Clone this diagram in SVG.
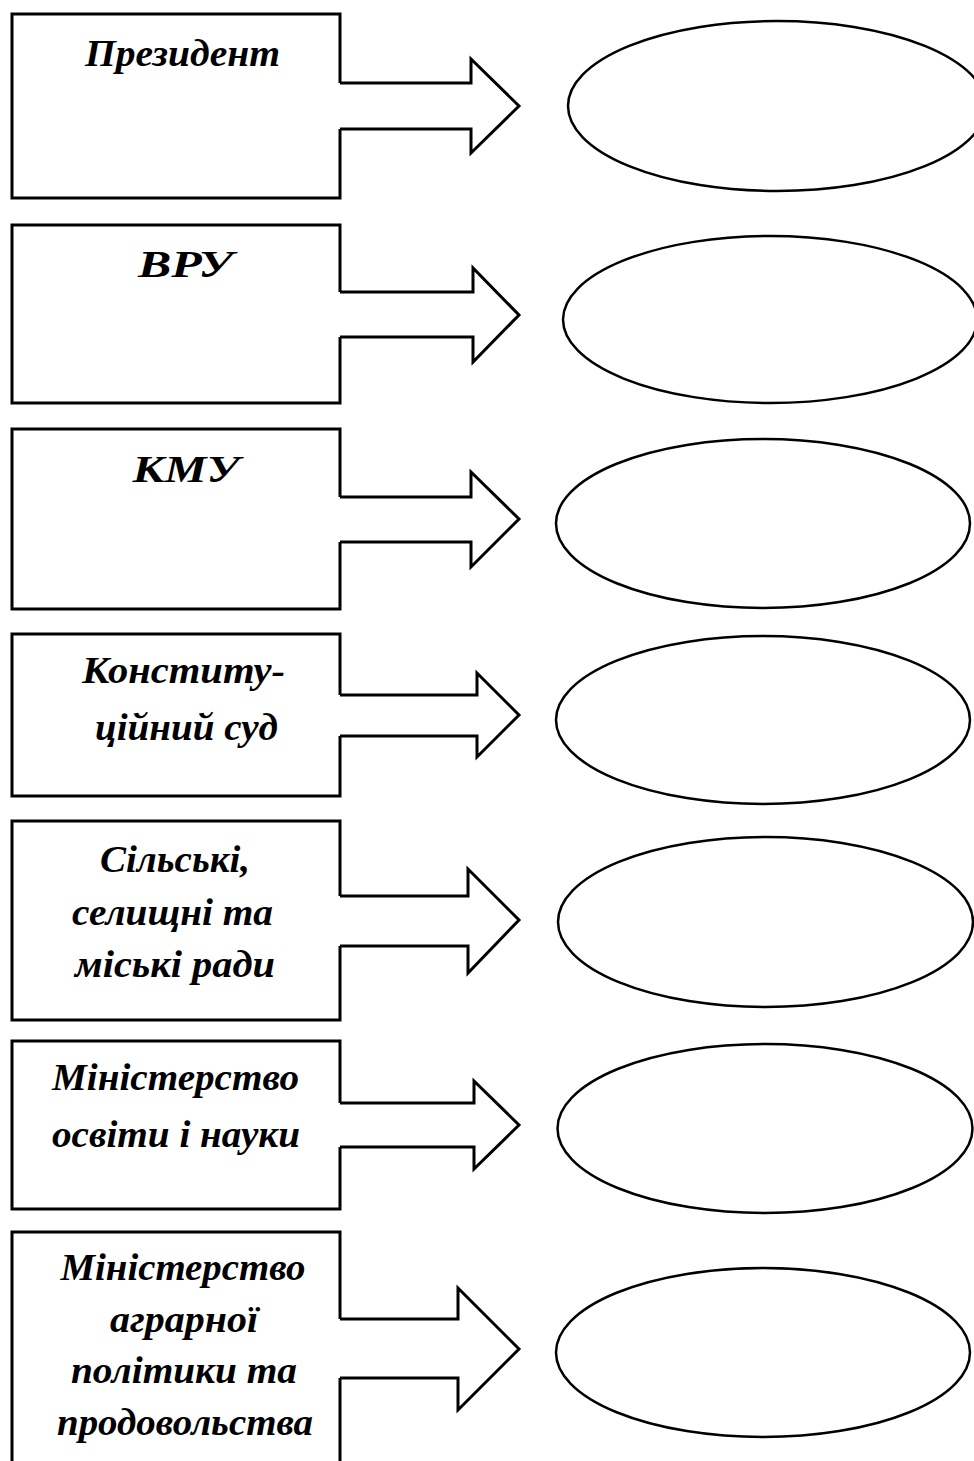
<svg xmlns="http://www.w3.org/2000/svg" width="974" height="1461" viewBox="0 0 974 1461">
<style>
  .box { fill: none; stroke: #000; stroke-width: 3; stroke-linejoin: miter; }
  .arrow { fill: none; stroke: #000; stroke-width: 3; stroke-linejoin: miter; }
  .ell { fill: none; stroke: #000; stroke-width: 2.5; }
  .lbl { font-family: "Liberation Serif", "DejaVu Serif", serif; font-style: italic; font-weight: bold; font-size: 38px; fill: #000; text-anchor: middle; }
</style>
<rect width="974" height="1461" fill="#fff"/>
<g id="node-president">
  <path class="box" d="M340,83 V14 H12 V198 H340 V129"/>
  <text class="lbl" x="182.5" y="66" textLength="195" lengthAdjust="spacingAndGlyphs">Президент</text>
</g>
<g id="node-vru">
  <path class="box" d="M340,292 V225 H12 V403 H340 V337"/>
  <text class="lbl" x="185.5" y="277" textLength="95" lengthAdjust="spacingAndGlyphs">ВРУ</text>
</g>
<g id="node-kmu">
  <path class="box" d="M340,497 V429 H12 V609 H340 V542"/>
  <text class="lbl" x="186" y="482" textLength="107" lengthAdjust="spacingAndGlyphs">КМУ</text>
</g>
<g id="node-court">
  <path class="box" d="M340,695 V634 H12 V796 H340 V736"/>
  <text class="lbl" x="183.5" y="683" textLength="203" lengthAdjust="spacingAndGlyphs">Конститу-</text>
  <text class="lbl" x="186.5" y="740" textLength="183" lengthAdjust="spacingAndGlyphs">ційний суд</text>
</g>
<g id="node-councils">
  <path class="box" d="M340,896 V821 H12 V1020 H340 V946"/>
  <text class="lbl" x="175" y="872" textLength="150" lengthAdjust="spacingAndGlyphs">Сільські,</text>
  <text class="lbl" x="172.5" y="925" textLength="201" lengthAdjust="spacingAndGlyphs">селищні та</text>
  <text class="lbl" x="175" y="977" textLength="200" lengthAdjust="spacingAndGlyphs">міські ради</text>
</g>
<g id="node-mon">
  <path class="box" d="M340,1103 V1041 H12 V1209 H340 V1147"/>
  <text class="lbl" x="175.5" y="1090" textLength="247" lengthAdjust="spacingAndGlyphs">Міністерство</text>
  <text class="lbl" x="176" y="1147" textLength="248" lengthAdjust="spacingAndGlyphs">освіти і науки</text>
</g>
<g id="node-agro">
  <path class="box" d="M340,1319 V1232 H12 V1470 M340,1470 V1378"/>
  <text class="lbl" x="183" y="1280" textLength="245" lengthAdjust="spacingAndGlyphs">Міністерство</text>
  <text class="lbl" x="184" y="1332" textLength="148" lengthAdjust="spacingAndGlyphs">аграрної</text>
  <text class="lbl" x="184" y="1383" textLength="226" lengthAdjust="spacingAndGlyphs">політики та</text>
  <text class="lbl" x="185" y="1435" textLength="256" lengthAdjust="spacingAndGlyphs">продовольства</text>
</g>
<g id="ell-1"><ellipse class="ell" cx="777" cy="106" rx="209" ry="85"/></g>
<g id="ell-2"><ellipse class="ell" cx="770" cy="319.5" rx="207" ry="83.5"/></g>
<g id="ell-3"><ellipse class="ell" cx="763" cy="523.5" rx="207" ry="84.5"/></g>
<g id="ell-4"><ellipse class="ell" cx="763" cy="720" rx="207" ry="84"/></g>
<g id="ell-5"><ellipse class="ell" cx="765.5" cy="922" rx="207.5" ry="85"/></g>
<g id="ell-6"><ellipse class="ell" cx="765" cy="1128.5" rx="207.5" ry="84.5"/></g>
<g id="ell-7"><ellipse class="ell" cx="763" cy="1352.5" rx="207" ry="84.5"/></g>
<g id="connectors">
  <polyline class="arrow" points="340,83 471,83 471,59 519,106 471,153 471,129 340,129"/>
  <polyline class="arrow" points="340,292 473,292 473,268 519,315 473,362 473,337 340,337"/>
  <polyline class="arrow" points="340,497 471,497 471,472 519,519 471,567 471,542 340,542"/>
  <polyline class="arrow" points="340,695 477,695 477,673 519,715 477,757 477,736 340,736"/>
  <polyline class="arrow" points="340,896 468,896 468,869 519,920 468,973 468,946 340,946"/>
  <polyline class="arrow" points="340,1103 474,1103 474,1081 519,1125 474,1169 474,1147 340,1147"/>
  <polyline class="arrow" points="340,1319 458,1319 458,1288 519,1349 458,1410 458,1378 340,1378"/>
</g>
</svg>
